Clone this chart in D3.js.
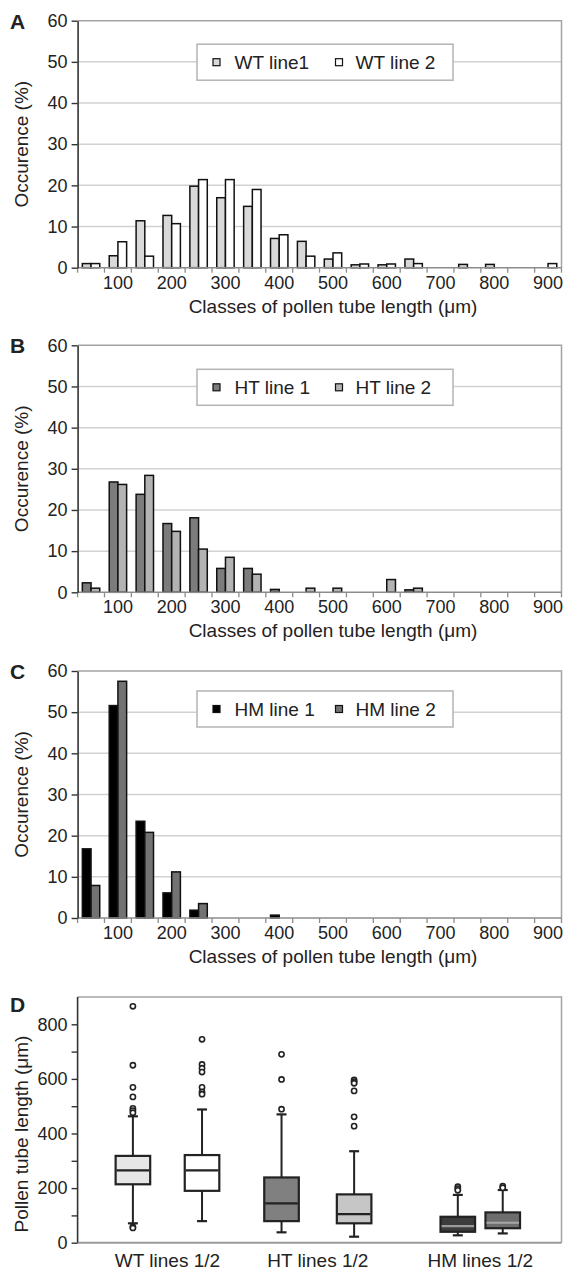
<!DOCTYPE html>
<html>
<head>
<meta charset="utf-8">
<script src="https://cdn.jsdelivr.net/npm/d3@7"></script>
<style>
body { margin: 0; background: #fff; }
text { font-family: "Liberation Sans", Arial, sans-serif; fill: #222; }
</style>
</head>
<body>
<svg id="chart" width="565" height="1275"></svg>
<script>
// histogram classes (um) and the labelled ones
var bins = [50, 100, 150, 200, 250, 300, 350, 400, 450, 500, 550, 600, 650, 700, 750, 800, 850, 900];
var binLabels = [100, 200, 300, 400, 500, 600, 700, 800, 900];
var pctTicks = [0, 10, 20, 30, 40, 50, 60];

// occurence (%) per class
var wt1 = [1, 2.9, 11.4, 12.7, 19.8, 17, 14.9, 7.1, 6.4, 2.1, 0.7, 0.7, 2.1, 0, 0.8, 0.8, 0, 0];
var wt2 = [1, 6.3, 2.8, 10.7, 21.4, 21.4, 19, 8, 2.8, 3.6, 0.9, 0.9, 1, 0, 0, 0, 0, 1];
var ht1 = [2.3, 26.8, 23.8, 16.7, 18.1, 5.8, 5.8, 0.7, 0, 0, 0, 0, 0.6, 0, 0, 0, 0, 0];
var ht2 = [1, 26.2, 28.4, 14.8, 10.5, 8.5, 4.4, 0, 1, 1, 0, 3.1, 1, 0, 0, 0, 0, 0];
var hm1 = [16.8, 51.6, 23.5, 6.1, 1.9, 0, 0, 0.7, 0, 0, 0, 0, 0, 0, 0, 0, 0, 0];
var hm2 = [7.9, 57.5, 20.8, 11.2, 3.5, 0, 0, 0, 0, 0, 0, 0, 0, 0, 0, 0, 0, 0];

// box plot (pollen tube length, um)
var boxGroups = ["WT lines 1/2", "HT lines 1/2", "HM lines 1/2"];
var boxSlot = [0.8, 1.8, 2.95, 4.0, 5.5, 6.15];
var boxMin = [71, 79, 38, 22, 27, 34];
var boxQ1 = [214, 190, 79, 71, 40, 53];
var boxMed = [265, 265, 144, 105, 61, 73];
var boxQ3 = [318, 321, 239, 177, 95, 111];
var boxMax = [463, 488, 470, 335, 175, 193];
var boxOut = [
    [866, 650, 569, 534, 492, 484, 476, 58, 54],
    [745, 653, 639, 625, 569, 552, 544],
    [690, 598, 489],
    [596, 590, 584, 556, 461, 427],
    [205, 198, 192],
    [207, 201]
];
var lenTicks = [0, 100, 200, 300, 400, 500, 600, 700, 800];

var boxFill = ["#e6e6e6", "#ffffff", "#808080", "#c6c6c6", "#3c3c3c", "#6e6e6e"];
var boxMedCol = ["#222", "#222", "#222", "#222", "#9a9a9a", "#a8a8a8"];

var svg = d3.select("#chart");
var L = 77.6, R = 561.5, panelH = 247;

function drawHist(top, letter, s1, s2, names, fills, legTop) {
    var g = svg.append("g");
    var y = d3.scaleLinear().domain([0, 60]).range([top + panelH, top]);
    var x0 = d3.scaleBand().domain(bins).range([L, R]);
    var x1 = d3.scaleBand().domain([0, 1]).range([0, x0.bandwidth()]).paddingOuter(0.545);

    // grid
    g.selectAll(".grid").data(pctTicks.slice(1, 6)).enter().append("line")
        .attr("x1", L).attr("x2", R)
        .attr("y1", function(d) { return y(d); }).attr("y2", function(d) { return y(d); })
        .attr("stroke", "#d2d2d2").attr("stroke-width", 1.5);
    // frame top + right
    g.append("path")
        .attr("d", "M" + L + "," + y(60) + "H" + R + "V" + y(0))
        .attr("fill", "none").attr("stroke", "#a3a3a3").attr("stroke-width", 1.5);

    // legend
    var lg = g.append("g");
    lg.append("rect").attr("x", 197).attr("y", top + legTop).attr("width", 256).attr("height", 36)
        .attr("fill", "#fff").attr("stroke", "#b4b4b4").attr("stroke-width", 1.5);
    var lx = [[213, 234.5], [335.5, 355.5]];
    names.forEach(function(n, i) {
        lg.append("rect").attr("x", lx[i][0]).attr("y", top + legTop + 14.5)
            .attr("width", 7).attr("height", 7)
            .attr("fill", fills[i]).attr("stroke", "#111").attr("stroke-width", 1.2);
        lg.append("text").attr("x", lx[i][1]).attr("y", top + legTop + 18)
            .attr("dy", "0.36em").attr("font-size", 19).text(n);
    });

    // bars
    var rows = [];
    bins.forEach(function(b, i) {
        rows.push({bin: b, s: 0, v: s1[i]});
        rows.push({bin: b, s: 1, v: s2[i]});
    });
    g.selectAll(".bar").data(rows.filter(function(d) { return d.v > 0; })).enter().append("rect")
        .attr("x", function(d) { return x0(d.bin) + x1(d.s); })
        .attr("width", x1.bandwidth())
        .attr("y", function(d) { return y(d.v); })
        .attr("height", function(d) { return y(0) - y(d.v); })
        .attr("fill", function(d) { return fills[d.s]; })
        .attr("stroke", "#111").attr("stroke-width", 1.5);

    // bottom axis: gray line, ticks between classes
    var edges = bins.map(function(b) { return x0(b); }).concat([R]);
    g.append("line").attr("x1", L).attr("x2", R).attr("y1", y(0)).attr("y2", y(0))
        .attr("stroke", "#8c8c8c").attr("stroke-width", 1.5);
    g.selectAll(".xt").data(edges).enter().append("line")
        .attr("x1", function(d) { return d; }).attr("x2", function(d) { return d; })
        .attr("y1", y(0)).attr("y2", y(0) + 5)
        .attr("stroke", "#8c8c8c").attr("stroke-width", 1.3);
    g.selectAll(".xl").data(binLabels).enter().append("text")
        .attr("x", function(d) { return x0(d) + x0.bandwidth() / 2; })
        .attr("y", y(0) + 21).attr("text-anchor", "middle").attr("font-size", 18)
        .text(function(d) { return d; });
    var cx = (x0(binLabels[0]) + x0(binLabels[binLabels.length - 1]) + x0.bandwidth()) / 2;
    g.append("text").attr("x", cx).attr("y", y(0) + 45).attr("text-anchor", "middle")
        .attr("font-size", 19).text("Classes of pollen tube length (\u03bcm)");

    // left axis
    var ya = g.append("g").attr("transform", "translate(" + L + ",0)")
        .call(d3.axisLeft(y).tickValues(pctTicks).tickSize(6).tickPadding(4).tickSizeOuter(0));
    ya.select(".domain").attr("stroke", "#333").attr("stroke-width", 1.6);
    ya.selectAll(".tick line").attr("stroke", "#333").attr("stroke-width", 1.4);
    ya.selectAll("text").attr("font-size", 18).attr("font-family", null).attr("fill", "#222");

    g.append("text").attr("transform", "translate(21," + (top + panelH / 2) + ") rotate(-90)")
        .attr("dy", "0.35em").attr("text-anchor", "middle").attr("font-size", 19)
        .text("Occurence (%)");
    g.append("text").attr("x", 10).attr("y", top + 8).attr("font-size", 21)
        .attr("font-weight", "bold").text(letter);
}

drawHist(20.7, "A", wt1, wt2, ["WT line1", "WT line 2"], ["#d9d9d9", "#ffffff"], 23.5);
drawHist(345.3, "B", ht1, ht2, ["HT line 1", "HT line 2"], ["#7c7c7c", "#b3b3b3"], 24);
drawHist(671, "C", hm1, hm2, ["HM line 1", "HM line 2"], ["#000000", "#737373"], 20);

// panel D: box plots
(function() {
    var top = 997, bot = 1242.7;
    var g = svg.append("g");
    var y = d3.scaleLinear().domain([0, 900]).range([bot, top]);
    var x = d3.scaleLinear().domain([0, 7]).range([L, R]);
    var bw = x(0.5) - x(0);

    g.append("path")
        .attr("d", "M" + L + "," + top + "H" + R + "V" + bot)
        .attr("fill", "none").attr("stroke", "#a3a3a3").attr("stroke-width", 1.5);
    g.append("line").attr("x1", L).attr("x2", R).attr("y1", bot).attr("y2", bot)
        .attr("stroke", "#9a9a9a").attr("stroke-width", 2);

    boxSlot.forEach(function(s, i) {
        var cx = x(s);
        var bg = g.append("g");
        bg.append("line").attr("x1", cx).attr("x2", cx).attr("y1", y(boxMax[i])).attr("y2", y(boxMin[i]))
            .attr("stroke", "#222").attr("stroke-width", 2);
        [boxMax[i], boxMin[i]].forEach(function(v) {
            bg.append("line").attr("x1", cx - 5).attr("x2", cx + 5).attr("y1", y(v)).attr("y2", y(v))
                .attr("stroke", "#222").attr("stroke-width", 2.2);
        });
        bg.append("rect").attr("x", cx - bw / 2).attr("width", bw)
            .attr("y", y(boxQ3[i])).attr("height", y(boxQ1[i]) - y(boxQ3[i]))
            .attr("fill", boxFill[i]).attr("stroke", "#222").attr("stroke-width", 2.2);
        bg.append("line").attr("x1", cx - bw / 2 + 1).attr("x2", cx + bw / 2 - 1)
            .attr("y1", y(boxMed[i])).attr("y2", y(boxMed[i]))
            .attr("stroke", boxMedCol[i]).attr("stroke-width", 2.2);
        bg.selectAll("circle").data(boxOut[i]).enter().append("circle")
            .attr("cx", cx).attr("cy", function(d) { return y(d); }).attr("r", 2.6)
            .attr("fill", "#fff").attr("stroke", "#222").attr("stroke-width", 1.6);
    });

    var ya = g.append("g").attr("transform", "translate(" + L + ",0)")
        .call(d3.axisLeft(y).tickValues(lenTicks).tickSize(6).tickPadding(4).tickSizeOuter(0)
            .tickFormat(function(d) { return d % 200 === 0 ? d : ""; }));
    ya.select(".domain").attr("d", "M0," + bot + "V" + top).attr("stroke", "#333").attr("stroke-width", 1.6);
    ya.selectAll(".tick line").attr("stroke", "#333").attr("stroke-width", 1.4);
    ya.selectAll("text").attr("font-size", 18).attr("font-family", null).attr("fill", "#222");

    boxGroups.forEach(function(name, k) {
        g.append("text").attr("x", x((boxSlot[2 * k] + boxSlot[2 * k + 1]) / 2)).attr("y", bot + 24)
            .attr("text-anchor", "middle").attr("font-size", 19).text(name);
    });
    g.append("text").attr("transform", "translate(21," + 1134 + ") rotate(-90)")
        .attr("dy", "0.35em").attr("text-anchor", "middle").attr("font-size", 19)
        .text("Pollen tube length (\u03bcm)");
    g.append("text").attr("x", 10).attr("y", top + 15).attr("font-size", 21)
        .attr("font-weight", "bold").text("D");
})();
</script>
</body>
</html>
